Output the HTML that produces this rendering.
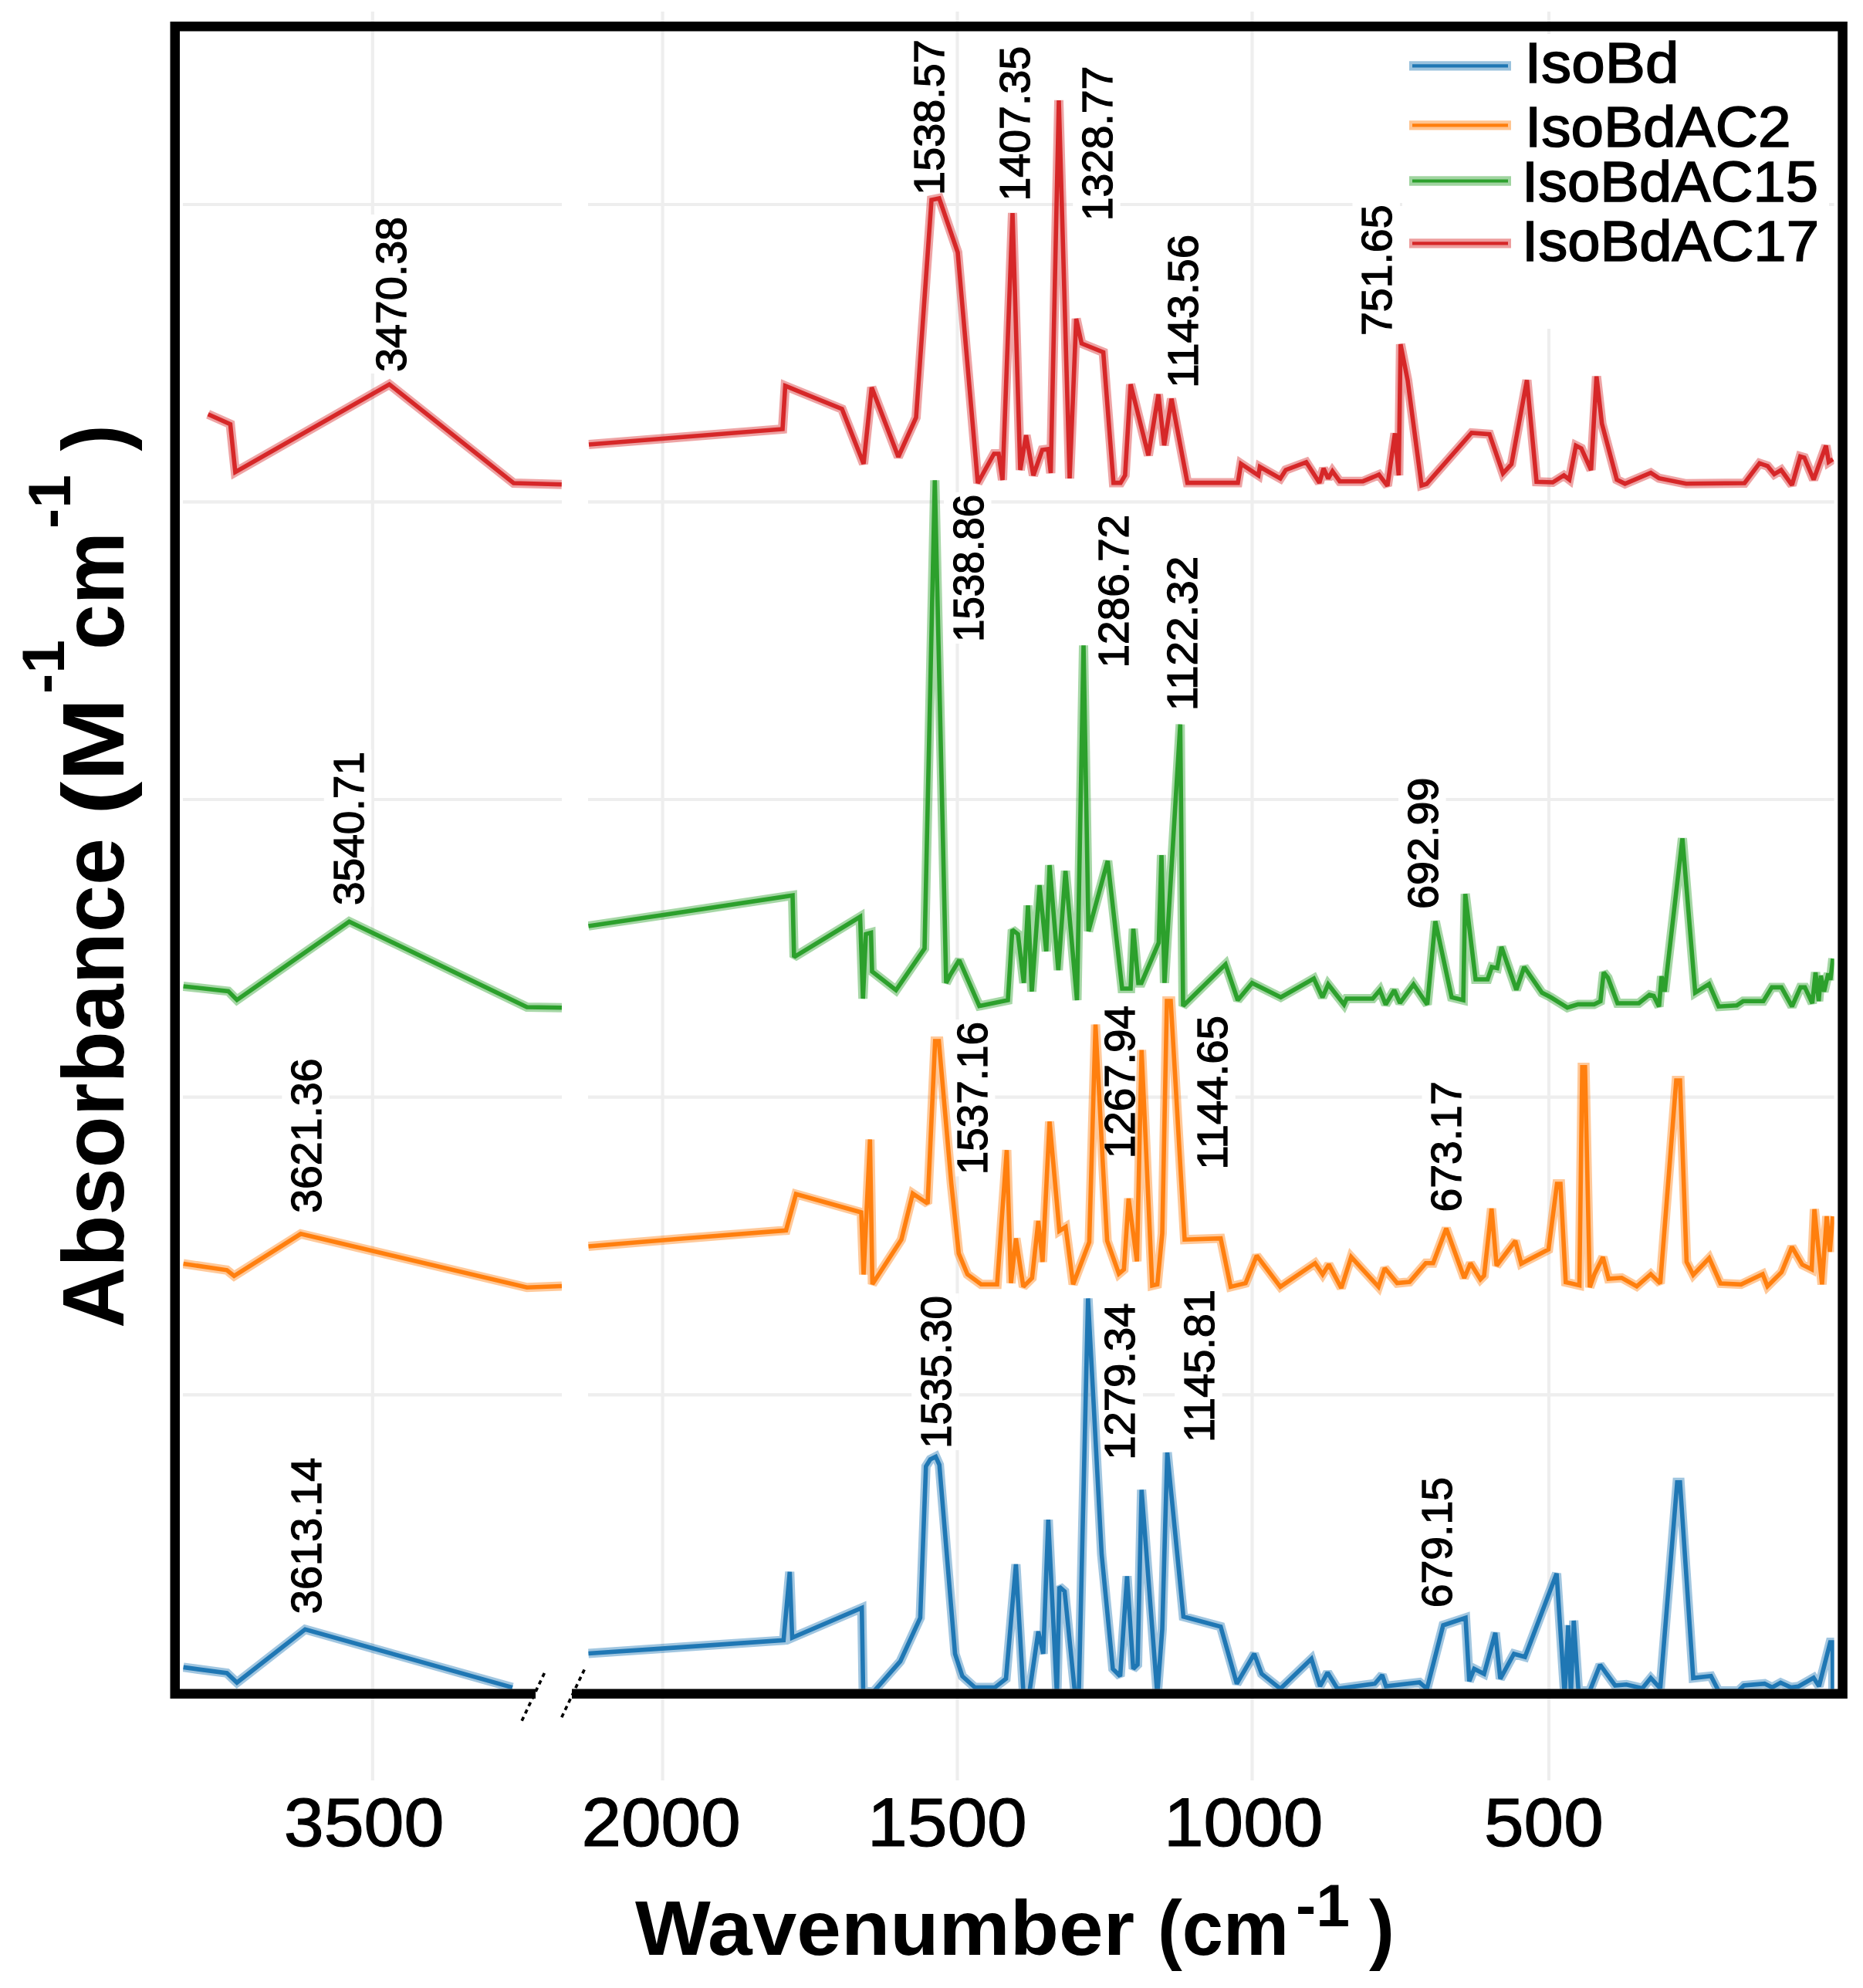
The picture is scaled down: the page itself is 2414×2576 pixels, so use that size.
<!DOCTYPE html>
<html lang="en"><head><meta charset="utf-8"><title>IR spectra</title>
<style>html,body{margin:0;padding:0;background:#fff}svg{display:block}text{font-family:"Liberation Sans", sans-serif;fill:#000}</style></head><body>
<svg width="2414" height="2576" viewBox="0 0 2414 2576">
<rect width="2414" height="2576" fill="#fff"/>
<defs><clipPath id="cl"><rect x="237" y="40.5" width="491" height="2148"/></clipPath><clipPath id="cr"><rect x="762" y="40.5" width="1614.6" height="2148"/></clipPath></defs>
<g stroke="#eeeeee" stroke-width="4.2" fill="none">
<line x1="482.8" y1="15" x2="482.8" y2="2307"/>
<line x1="858.6" y1="15" x2="858.6" y2="2307"/>
<line x1="1240.5" y1="15" x2="1240.5" y2="2307"/>
<line x1="1622.5" y1="15" x2="1622.5" y2="2307"/>
<line x1="2007" y1="15" x2="2007" y2="2307"/>
<line x1="237" y1="265" x2="728" y2="265"/>
<line x1="762" y1="265" x2="2376.6" y2="265"/>
<line x1="237" y1="650.3" x2="728" y2="650.3"/>
<line x1="762" y1="650.3" x2="2376.6" y2="650.3"/>
<line x1="237" y1="1036" x2="728" y2="1036"/>
<line x1="762" y1="1036" x2="2376.6" y2="1036"/>
<line x1="237" y1="1421.7" x2="728" y2="1421.7"/>
<line x1="762" y1="1421.7" x2="2376.6" y2="1421.7"/>
<line x1="237" y1="1807.3" x2="728" y2="1807.3"/>
<line x1="762" y1="1807.3" x2="2376.6" y2="1807.3"/>
</g>
<g fill="#fff">
<rect x="475.5" y="278" width="61.5" height="206"/>
<rect x="1172.5" y="48.2" width="61.5" height="206.7"/>
<rect x="1283.4" y="56.8" width="61.5" height="205.8"/>
<rect x="1390.2" y="82.5" width="61.5" height="205.8"/>
<rect x="1501" y="301" width="61.5" height="203.7"/>
<rect x="1752.5" y="262.5" width="61.5" height="174.5"/>
<rect x="419.8" y="971" width="61.5" height="204"/>
<rect x="1223" y="637.8" width="61.5" height="196.2"/>
<rect x="1411" y="664" width="61.5" height="203.4"/>
<rect x="1500.2" y="717.8" width="61.5" height="205.4"/>
<rect x="1812.1" y="1004.4" width="61.5" height="175.6"/>
<rect x="365.3" y="1368.4" width="61.5" height="205.4"/>
<rect x="1227.9" y="1321" width="61.5" height="203.3"/>
<rect x="1419.5" y="1300" width="61.5" height="203.3"/>
<rect x="1539.2" y="1313" width="61.5" height="204.8"/>
<rect x="1842.5" y="1398.3" width="61.5" height="174.3"/>
<rect x="365.3" y="1886" width="61.5" height="207.2"/>
<rect x="1181.2" y="1676" width="61.5" height="203"/>
<rect x="1419.5" y="1685.6" width="61.5" height="208.1"/>
<rect x="1522.2" y="1667.9" width="61.5" height="203.1"/>
<rect x="1829.7" y="1911" width="61.5" height="174.3"/>
<rect x="1817" y="44" width="553" height="382"/>
</g>
<g clip-path="url(#cl)" fill="none" stroke="#1f77b4" stroke-linejoin="miter" stroke-miterlimit="2"><polyline stroke-width="12" stroke-opacity="0.42" points="237.6,2160.4 294,2167.9 307,2180.3 395.4,2111.3 664,2186.6"/><polyline stroke-width="5.6" points="237.6,2160.4 294,2167.9 307,2180.3 395.4,2111.3 664,2186.6"/></g>
<g clip-path="url(#cr)" fill="none" stroke="#1f77b4" stroke-linejoin="miter" stroke-miterlimit="2"><polyline stroke-width="12" stroke-opacity="0.42" points="762.5,2142.5 880,2134.6 1015.3,2125.4 1023.3,2036.8 1026.5,2122 1116.7,2083.5 1118.5,2192 1132,2192 1166.6,2152.7 1192.4,2096.4 1199.8,1900 1205.5,1891 1212.5,1887.5 1217.2,1898 1237.5,2143 1247,2172 1263.3,2186.6 1289,2186.6 1303.5,2175.3 1316.4,2027 1326,2192 1334,2192 1345.4,2114 1351.8,2143 1358.3,1969.2 1369.5,2196 1372.7,2056 1379.5,2062 1392.5,2190 1398,2190 1409.8,1682.5 1427.5,2014.3 1442,2162.4 1451.5,2172 1460.4,2042.4 1468.4,2162.4 1474,2157 1479.2,1930.5 1499.6,2196 1506,2111 1512.5,1882.2 1533.4,2094.8 1581.7,2107.7 1602.6,2181.7 1625.2,2143 1634.8,2168.9 1659,2188.2 1699.3,2149.5 1710.5,2185 1720.2,2167.2 1733,2188.2 1781.4,2181.7 1791,2170.5 1795.9,2185 1839.4,2180 1849,2188.2 1870,2106 1899,2096.4 1903.8,2178.5 1910.2,2162.4 1923,2168.9 1937.6,2115.7 1944,2175.3 1961.7,2143 1976,2147 2017,2039 2027.4,2196 2032,2106 2035.5,2196 2039.2,2100 2045.3,2191 2060,2191 2073.3,2157.2 2092.8,2184 2107.4,2182.8 2128,2187.7 2139,2174.3 2151.3,2187.7 2173.2,1920.8 2176.9,1920.8 2194,2174.3 2217,2171.8 2226.8,2191 2252.4,2191 2259.7,2184 2286.5,2181.6 2296.3,2186.5 2307.3,2180.4 2320.7,2186.5 2330.4,2185.2 2350,2174 2357,2185 2371.5,2128 2374.5,2128 2375,2197"/><polyline stroke-width="5.6" points="762.5,2142.5 880,2134.6 1015.3,2125.4 1023.3,2036.8 1026.5,2122 1116.7,2083.5 1118.5,2192 1132,2192 1166.6,2152.7 1192.4,2096.4 1199.8,1900 1205.5,1891 1212.5,1887.5 1217.2,1898 1237.5,2143 1247,2172 1263.3,2186.6 1289,2186.6 1303.5,2175.3 1316.4,2027 1326,2192 1334,2192 1345.4,2114 1351.8,2143 1358.3,1969.2 1369.5,2196 1372.7,2056 1379.5,2062 1392.5,2190 1398,2190 1409.8,1682.5 1427.5,2014.3 1442,2162.4 1451.5,2172 1460.4,2042.4 1468.4,2162.4 1474,2157 1479.2,1930.5 1499.6,2196 1506,2111 1512.5,1882.2 1533.4,2094.8 1581.7,2107.7 1602.6,2181.7 1625.2,2143 1634.8,2168.9 1659,2188.2 1699.3,2149.5 1710.5,2185 1720.2,2167.2 1733,2188.2 1781.4,2181.7 1791,2170.5 1795.9,2185 1839.4,2180 1849,2188.2 1870,2106 1899,2096.4 1903.8,2178.5 1910.2,2162.4 1923,2168.9 1937.6,2115.7 1944,2175.3 1961.7,2143 1976,2147 2017,2039 2027.4,2196 2032,2106 2035.5,2196 2039.2,2100 2045.3,2191 2060,2191 2073.3,2157.2 2092.8,2184 2107.4,2182.8 2128,2187.7 2139,2174.3 2151.3,2187.7 2173.2,1920.8 2176.9,1920.8 2194,2174.3 2217,2171.8 2226.8,2191 2252.4,2191 2259.7,2184 2286.5,2181.6 2296.3,2186.5 2307.3,2180.4 2320.7,2186.5 2330.4,2185.2 2350,2174 2357,2185 2371.5,2128 2374.5,2128 2375,2197"/></g>
<g clip-path="url(#cl)" fill="none" stroke="#ff7f0e" stroke-linejoin="miter" stroke-miterlimit="2"><polyline stroke-width="12" stroke-opacity="0.42" points="237.6,1637.5 294,1645.8 303.3,1653.3 389.7,1598.8 682.8,1668.3 728,1666.5"/><polyline stroke-width="5.6" points="237.6,1637.5 294,1645.8 303.3,1653.3 389.7,1598.8 682.8,1668.3 728,1666.5"/></g>
<g clip-path="url(#cr)" fill="none" stroke="#ff7f0e" stroke-linejoin="miter" stroke-miterlimit="2"><polyline stroke-width="12" stroke-opacity="0.42" points="762.5,1615 880,1605.2 1018.5,1594.3 1031.4,1547.3 1116,1571 1119,1651.5 1127.3,1476.5 1130.4,1664 1168,1606.2 1182.7,1546.6 1202,1559.5 1211.7,1349 1216.5,1349 1232.7,1533.8 1242.3,1624 1253.6,1651.3 1271.3,1664.2 1292,1664.2 1304.5,1490.3 1310,1662.6 1316.4,1604.6 1326,1667.4 1337.3,1656 1345.4,1582 1350.9,1635.2 1360,1453.2 1372.7,1595 1380.8,1590 1390.5,1664.2 1411.4,1609.4 1419.5,1327.6 1429,1508 1434.6,1607.8 1449.8,1650.5 1456.3,1645 1462.4,1553 1473.2,1634.4 1479.2,1360.6 1493,1665.8 1499.6,1664.2 1506,1598 1512,1297 1517,1297 1535,1606.2 1581.7,1604.6 1594.6,1667.4 1614,1662.6 1628.4,1627 1659,1667.4 1704,1636.8 1713.8,1651.3 1721.8,1638.4 1738,1669 1750.8,1628.8 1786.2,1667.4 1794.3,1643.3 1810.4,1662.6 1826.5,1661 1847.4,1636.8 1857,1636.8 1874,1591.7 1897.3,1656 1905.4,1636.8 1918.3,1657.7 1923,1653 1932.7,1566 1939.2,1640 1963.5,1608 1971.2,1637.3 2006.5,1619 2017.5,1534 2022,1534 2028.8,1661.5 2046.5,1665.5 2050.2,1382.9 2053.8,1382.9 2060,1668 2066,1651 2077,1629 2084.3,1657 2101.3,1655.8 2120.8,1666.8 2139,1651 2151.3,1663 2172,1400 2176.9,1400 2185.4,1635 2194,1652 2214.7,1630.2 2229.3,1663 2256,1664.3 2284,1651 2290.2,1666.8 2308.5,1648.5 2321.9,1615.6 2335.3,1638.7 2347.5,1644.8 2351,1566.8 2360.9,1664.3 2367,1576 2371,1622 2375,1576"/><polyline stroke-width="5.6" points="762.5,1615 880,1605.2 1018.5,1594.3 1031.4,1547.3 1116,1571 1119,1651.5 1127.3,1476.5 1130.4,1664 1168,1606.2 1182.7,1546.6 1202,1559.5 1211.7,1349 1216.5,1349 1232.7,1533.8 1242.3,1624 1253.6,1651.3 1271.3,1664.2 1292,1664.2 1304.5,1490.3 1310,1662.6 1316.4,1604.6 1326,1667.4 1337.3,1656 1345.4,1582 1350.9,1635.2 1360,1453.2 1372.7,1595 1380.8,1590 1390.5,1664.2 1411.4,1609.4 1419.5,1327.6 1429,1508 1434.6,1607.8 1449.8,1650.5 1456.3,1645 1462.4,1553 1473.2,1634.4 1479.2,1360.6 1493,1665.8 1499.6,1664.2 1506,1598 1512,1297 1517,1297 1535,1606.2 1581.7,1604.6 1594.6,1667.4 1614,1662.6 1628.4,1627 1659,1667.4 1704,1636.8 1713.8,1651.3 1721.8,1638.4 1738,1669 1750.8,1628.8 1786.2,1667.4 1794.3,1643.3 1810.4,1662.6 1826.5,1661 1847.4,1636.8 1857,1636.8 1874,1591.7 1897.3,1656 1905.4,1636.8 1918.3,1657.7 1923,1653 1932.7,1566 1939.2,1640 1963.5,1608 1971.2,1637.3 2006.5,1619 2017.5,1534 2022,1534 2028.8,1661.5 2046.5,1665.5 2050.2,1382.9 2053.8,1382.9 2060,1668 2066,1651 2077,1629 2084.3,1657 2101.3,1655.8 2120.8,1666.8 2139,1651 2151.3,1663 2172,1400 2176.9,1400 2185.4,1635 2194,1652 2214.7,1630.2 2229.3,1663 2256,1664.3 2284,1651 2290.2,1666.8 2308.5,1648.5 2321.9,1615.6 2335.3,1638.7 2347.5,1644.8 2351,1566.8 2360.9,1664.3 2367,1576 2371,1622 2375,1576"/></g>
<g clip-path="url(#cl)" fill="none" stroke="#2ca02c" stroke-linejoin="miter" stroke-miterlimit="2"><polyline stroke-width="12" stroke-opacity="0.42" points="237.6,1278 295.8,1284.4 307,1295.7 452.5,1194.2 682.8,1305 728,1305.8"/><polyline stroke-width="5.6" points="237.6,1278 295.8,1284.4 307,1295.7 452.5,1194.2 682.8,1305 728,1305.8"/></g>
<g clip-path="url(#cr)" fill="none" stroke="#2ca02c" stroke-linejoin="miter" stroke-miterlimit="2"><polyline stroke-width="12" stroke-opacity="0.42" points="762.5,1199.9 880,1182.5 1027,1160.2 1028.9,1240.2 1114.5,1188 1118.2,1294 1122,1210.4 1128.6,1208.6 1130,1258.8 1161,1283 1198,1229 1211.3,622.3 1226,1273.7 1231.7,1262.5 1243,1244 1269,1303.5 1306,1296 1311.7,1204.8 1319,1210.4 1326.6,1273.7 1332,1173.2 1337,1284.9 1347,1147 1355.7,1232.7 1360,1121 1371.3,1257 1380.6,1128.5 1395.5,1296 1404,836.3 1410.4,1206.7 1435.3,1115.5 1454,1281 1465,1281 1468.5,1203.5 1475,1273.7 1479,1273.7 1501.4,1221.6 1505,1108 1508.9,1273.7 1529.3,938.7 1533,1303.5 1588,1249.5 1603.8,1296 1622.4,1273.7 1659.6,1292.3 1702.4,1268 1713.6,1292.3 1721,1275.5 1741.5,1301.6 1745,1294 1778.7,1294 1788,1283 1795.5,1301.6 1806.6,1283 1814,1299.7 1831.6,1275.5 1849.4,1301.6 1859.8,1193.7 1881,1292.3 1896,1296 1898.6,1158.3 1912,1269 1927.6,1269 1933,1253 1940,1254.5 1945.5,1227 1964.8,1282.5 1975,1253 1998,1286.3 2009.5,1292.3 2031,1305.6 2044.9,1301.4 2065.5,1301.4 2073.8,1297.3 2078,1260 2083.5,1267 2095.9,1300 2123.5,1300 2137.3,1289 2142.8,1290.4 2149.7,1304.2 2153,1265 2157,1285 2180,1086.2 2196.6,1286.3 2214.5,1275.2 2227,1304.2 2250.4,1302.8 2258.7,1297.3 2284.9,1297.3 2295.9,1279.4 2308.3,1279.4 2322,1304.2 2333,1279.4 2338.7,1279.4 2348.3,1300 2352.5,1260 2356.6,1297.3 2359.4,1264.2 2363.5,1284.9 2369,1261.4 2371.8,1269.7 2375,1242"/><polyline stroke-width="5.6" points="762.5,1199.9 880,1182.5 1027,1160.2 1028.9,1240.2 1114.5,1188 1118.2,1294 1122,1210.4 1128.6,1208.6 1130,1258.8 1161,1283 1198,1229 1211.3,622.3 1226,1273.7 1231.7,1262.5 1243,1244 1269,1303.5 1306,1296 1311.7,1204.8 1319,1210.4 1326.6,1273.7 1332,1173.2 1337,1284.9 1347,1147 1355.7,1232.7 1360,1121 1371.3,1257 1380.6,1128.5 1395.5,1296 1404,836.3 1410.4,1206.7 1435.3,1115.5 1454,1281 1465,1281 1468.5,1203.5 1475,1273.7 1479,1273.7 1501.4,1221.6 1505,1108 1508.9,1273.7 1529.3,938.7 1533,1303.5 1588,1249.5 1603.8,1296 1622.4,1273.7 1659.6,1292.3 1702.4,1268 1713.6,1292.3 1721,1275.5 1741.5,1301.6 1745,1294 1778.7,1294 1788,1283 1795.5,1301.6 1806.6,1283 1814,1299.7 1831.6,1275.5 1849.4,1301.6 1859.8,1193.7 1881,1292.3 1896,1296 1898.6,1158.3 1912,1269 1927.6,1269 1933,1253 1940,1254.5 1945.5,1227 1964.8,1282.5 1975,1253 1998,1286.3 2009.5,1292.3 2031,1305.6 2044.9,1301.4 2065.5,1301.4 2073.8,1297.3 2078,1260 2083.5,1267 2095.9,1300 2123.5,1300 2137.3,1289 2142.8,1290.4 2149.7,1304.2 2153,1265 2157,1285 2180,1086.2 2196.6,1286.3 2214.5,1275.2 2227,1304.2 2250.4,1302.8 2258.7,1297.3 2284.9,1297.3 2295.9,1279.4 2308.3,1279.4 2322,1304.2 2333,1279.4 2338.7,1279.4 2348.3,1300 2352.5,1260 2356.6,1297.3 2359.4,1264.2 2363.5,1284.9 2369,1261.4 2371.8,1269.7 2375,1242"/></g>
<g clip-path="url(#cl)" fill="none" stroke="#d62728" stroke-linejoin="miter" stroke-miterlimit="2"><polyline stroke-width="12" stroke-opacity="0.42" points="269.6,536.7 298.4,549.6 304.9,611.8 504.5,498 665.5,626 727.8,627.7"/><polyline stroke-width="5.6" points="269.6,536.7 298.4,549.6 304.9,611.8 504.5,498 665.5,626 727.8,627.7"/></g>
<g clip-path="url(#cr)" fill="none" stroke="#d62728" stroke-linejoin="miter" stroke-miterlimit="2"><polyline stroke-width="12" stroke-opacity="0.42" points="763,576 1014,556 1017.5,500 1091,530 1119,601 1129.5,502 1164,592 1187,541 1207,259 1217,257 1241,327 1267,626 1288,588 1294,588 1299,622 1312,276 1322,609 1329.5,564 1339,616 1350.5,583 1358,582 1361.5,613 1372,130 1386,620 1394.5,413 1401.5,445 1429.6,456.5 1442.8,625.6 1452,625.6 1457.8,616 1465,498 1488,590 1501,511 1508.5,577 1518,516.6 1538.6,625.6 1604,625.6 1608,601 1630.6,616 1632.5,605 1659,620 1666,609 1692.6,599 1709.6,625.6 1715,607 1721,620 1726.5,610.6 1736,623.7 1766,623.7 1786.8,615 1797.8,629.5 1807.5,561.5 1812.4,616 1814.8,446 1824,493 1842,629 1848.6,627 1906.8,561 1930,562.6 1947.5,613.5 1958.5,601.5 1978.5,492.5 1991,624.3 2012,625 2026.4,616 2033.5,621.5 2042,577.5 2049,581 2061.6,609 2068.7,487.7 2075.7,549 2095,621.5 2105.6,626.8 2139,612.7 2149.6,619.7 2184.8,626.8 2260.5,626 2279.9,600.4 2290.4,603.9 2299,614.4 2308,609 2322,628.5 2332.7,591.5 2338,593 2350,621.5 2366,577.5 2369.6,598.6 2375,595"/><polyline stroke-width="5.6" points="763,576 1014,556 1017.5,500 1091,530 1119,601 1129.5,502 1164,592 1187,541 1207,259 1217,257 1241,327 1267,626 1288,588 1294,588 1299,622 1312,276 1322,609 1329.5,564 1339,616 1350.5,583 1358,582 1361.5,613 1372,130 1386,620 1394.5,413 1401.5,445 1429.6,456.5 1442.8,625.6 1452,625.6 1457.8,616 1465,498 1488,590 1501,511 1508.5,577 1518,516.6 1538.6,625.6 1604,625.6 1608,601 1630.6,616 1632.5,605 1659,620 1666,609 1692.6,599 1709.6,625.6 1715,607 1721,620 1726.5,610.6 1736,623.7 1766,623.7 1786.8,615 1797.8,629.5 1807.5,561.5 1812.4,616 1814.8,446 1824,493 1842,629 1848.6,627 1906.8,561 1930,562.6 1947.5,613.5 1958.5,601.5 1978.5,492.5 1991,624.3 2012,625 2026.4,616 2033.5,621.5 2042,577.5 2049,581 2061.6,609 2068.7,487.7 2075.7,549 2095,621.5 2105.6,626.8 2139,612.7 2149.6,619.7 2184.8,626.8 2260.5,626 2279.9,600.4 2290.4,603.9 2299,614.4 2308,609 2322,628.5 2332.7,591.5 2338,593 2350,621.5 2366,577.5 2369.6,598.6 2375,595"/></g>
<path d="M694,2194.75 H226.75 V34.25 H2387.6 V2194.75 H741" fill="none" stroke="#000" stroke-width="12.5" stroke-linejoin="miter"/>
<g stroke="#000" stroke-width="3.6" stroke-dasharray="5.5 5" fill="none">
<line x1="705.4" y1="2167.9" x2="674.2" y2="2234"/>
<line x1="757.2" y1="2163.4" x2="726" y2="2229"/>
</g>
<g font-size="55" stroke="#000" stroke-width="1.3">
<text transform="translate(526.3,482) rotate(-90)" textLength="201" lengthAdjust="spacingAndGlyphs">3470.38</text>
<text transform="translate(1223.3,252.9) rotate(-90)" textLength="201.7" lengthAdjust="spacingAndGlyphs">1538.57</text>
<text transform="translate(1334.2,260.6) rotate(-90)" textLength="200.8" lengthAdjust="spacingAndGlyphs">1407.35</text>
<text transform="translate(1441,286.3) rotate(-90)" textLength="200.8" lengthAdjust="spacingAndGlyphs">1328.77</text>
<text transform="translate(1551.8,502.7) rotate(-90)" textLength="198.7" lengthAdjust="spacingAndGlyphs">1143.56</text>
<text transform="translate(1803.3,435) rotate(-90)" textLength="169.5" lengthAdjust="spacingAndGlyphs">751.65</text>
<text transform="translate(470.6,1173) rotate(-90)" textLength="199" lengthAdjust="spacingAndGlyphs">3540.71</text>
<text transform="translate(1273.8,832) rotate(-90)" textLength="191.2" lengthAdjust="spacingAndGlyphs">1538.86</text>
<text transform="translate(1461.8,865.4) rotate(-90)" textLength="198.4" lengthAdjust="spacingAndGlyphs">1286.72</text>
<text transform="translate(1551,921.2) rotate(-90)" textLength="200.4" lengthAdjust="spacingAndGlyphs">1122.32</text>
<text transform="translate(1862.9,1178) rotate(-90)" textLength="170.6" lengthAdjust="spacingAndGlyphs">692.99</text>
<text transform="translate(416.1,1571.8) rotate(-90)" textLength="200.4" lengthAdjust="spacingAndGlyphs">3621.36</text>
<text transform="translate(1278.7,1522.3) rotate(-90)" textLength="198.3" lengthAdjust="spacingAndGlyphs">1537.16</text>
<text transform="translate(1470.3,1501.3) rotate(-90)" textLength="198.3" lengthAdjust="spacingAndGlyphs">1267.94</text>
<text transform="translate(1590,1515.8) rotate(-90)" textLength="199.8" lengthAdjust="spacingAndGlyphs">1144.65</text>
<text transform="translate(1893.3,1570.6) rotate(-90)" textLength="169.3" lengthAdjust="spacingAndGlyphs">673.17</text>
<text transform="translate(416.1,2091.2) rotate(-90)" textLength="202.2" lengthAdjust="spacingAndGlyphs">3613.14</text>
<text transform="translate(1232,1877) rotate(-90)" textLength="198" lengthAdjust="spacingAndGlyphs">1535.30</text>
<text transform="translate(1470.3,1891.7) rotate(-90)" textLength="203.1" lengthAdjust="spacingAndGlyphs">1279.34</text>
<text transform="translate(1573,1869) rotate(-90)" textLength="198.1" lengthAdjust="spacingAndGlyphs">1145.81</text>
<text transform="translate(1880.5,2083.3) rotate(-90)" textLength="169.3" lengthAdjust="spacingAndGlyphs">679.15</text>
</g>
<line x1="1826" y1="85.3" x2="1958" y2="85.3" stroke="#1f77b4" stroke-width="12.3" stroke-opacity="0.45"/>
<line x1="1830" y1="85.3" x2="1954" y2="85.3" stroke="#1f77b4" stroke-width="4.2"/>
<text x="1975.4" y="107.4" font-size="74" stroke="#000" stroke-width="1.6" textLength="200" lengthAdjust="spacingAndGlyphs">IsoBd</text>
<line x1="1826" y1="162.3" x2="1958" y2="162.3" stroke="#ff7f0e" stroke-width="12.3" stroke-opacity="0.45"/>
<line x1="1830" y1="162.3" x2="1954" y2="162.3" stroke="#ff7f0e" stroke-width="4.2"/>
<text x="1976" y="190" font-size="74" stroke="#000" stroke-width="1.6" textLength="344.5" lengthAdjust="spacingAndGlyphs">IsoBdAC2</text>
<line x1="1826" y1="234.5" x2="1958" y2="234.5" stroke="#2ca02c" stroke-width="12.3" stroke-opacity="0.45"/>
<line x1="1830" y1="234.5" x2="1954" y2="234.5" stroke="#2ca02c" stroke-width="4.2"/>
<text x="1972" y="261" font-size="74" stroke="#000" stroke-width="1.6" textLength="384" lengthAdjust="spacingAndGlyphs">IsoBdAC15</text>
<line x1="1826" y1="315.3" x2="1958" y2="315.3" stroke="#d62728" stroke-width="12.3" stroke-opacity="0.45"/>
<line x1="1830" y1="315.3" x2="1954" y2="315.3" stroke="#d62728" stroke-width="4.2"/>
<text x="1972" y="338" font-size="74" stroke="#000" stroke-width="1.6" textLength="385" lengthAdjust="spacingAndGlyphs">IsoBdAC17</text>
<text x="367.7" y="2392.4" font-size="89" stroke="#000" stroke-width="1.2" textLength="207.8" lengthAdjust="spacingAndGlyphs">3500</text>
<text x="753.5" y="2392.4" font-size="89" stroke="#000" stroke-width="1.2" textLength="206.2" lengthAdjust="spacingAndGlyphs">2000</text>
<text x="1124" y="2392.4" font-size="89" stroke="#000" stroke-width="1.2" textLength="206.8" lengthAdjust="spacingAndGlyphs">1500</text>
<text x="1508" y="2392.4" font-size="89" stroke="#000" stroke-width="1.2" textLength="206.5" lengthAdjust="spacingAndGlyphs">1000</text>
<text x="1923" y="2392.4" font-size="89" stroke="#000" stroke-width="1.2" textLength="154.8" lengthAdjust="spacingAndGlyphs">500</text>
<g font-weight="bold">
<text x="823" y="2532.5" font-size="100" textLength="647" lengthAdjust="spacingAndGlyphs">Wavenumber</text>
<text x="1500" y="2532.5" font-size="100" textLength="170" lengthAdjust="spacingAndGlyphs">(cm</text>
<text x="1679" y="2495.8" font-size="77" textLength="70" lengthAdjust="spacingAndGlyphs">-1</text>
<text x="1774" y="2532.5" font-size="100" textLength="33" lengthAdjust="spacingAndGlyphs">)</text>
<text transform="translate(160.3,1721) rotate(-90)" font-size="113" textLength="635" lengthAdjust="spacingAndGlyphs">Absorbance</text>
<text transform="translate(160.3,1056) rotate(-90)" font-size="113" textLength="152" lengthAdjust="spacingAndGlyphs">(M</text>
<text transform="translate(83,899) rotate(-90)" font-size="77" textLength="70" lengthAdjust="spacingAndGlyphs">-1</text>
<text transform="translate(160.3,842) rotate(-90)" font-size="113" textLength="153" lengthAdjust="spacingAndGlyphs">cm</text>
<text transform="translate(91.3,685) rotate(-90)" font-size="77" textLength="70" lengthAdjust="spacingAndGlyphs">-1</text>
<text transform="translate(160.3,584.5) rotate(-90)" font-size="113" textLength="34" lengthAdjust="spacingAndGlyphs">)</text>
</g>
</svg></body></html>
